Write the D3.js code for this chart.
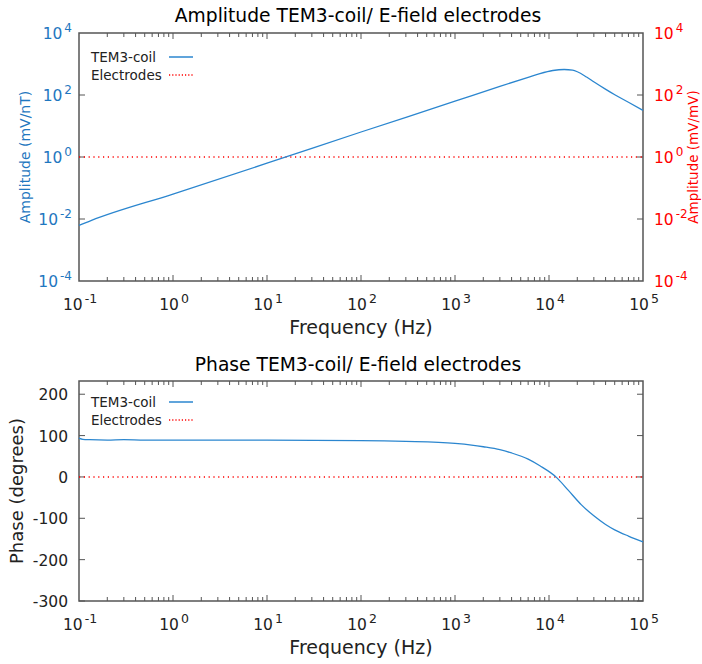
<!DOCTYPE html>
<html><head><meta charset="utf-8">
<script src="https://cdn.jsdelivr.net/npm/d3@7"></script>
<style>body{margin:0;background:#fff}svg{display:block}text{font-family:"DejaVu Sans",sans-serif}</style>
</head><body><svg id="c" width="702" height="664"></svg>
<script>
// ---- data ----
const ampFreq = [0.1, 0.134, 1, 10, 100, 1000, 3000, 6000, 8000, 11000, 14500, 17800, 20000, 25100, 30200, 39800, 50100, 70800, 100000];
const ampCoil = [0.0062, 0.0089, 0.064, 0.63, 6.4, 63, 190, 372, 490, 617, 665, 631, 562, 380, 263, 155, 102, 57.5, 32];
const electrodeFreq = [0.1, 100000];
const ampElectrodes = [1, 1];
const phaseFreq = [0.1, 0.11, 0.13, 0.2, 0.3, 0.5, 1, 10, 100, 300, 1000, 1500, 2000, 3000, 4000, 6000, 8000, 12000, 16000, 22000, 30000, 40000, 50000, 70000, 100000];
const phaseCoil = [94, 91, 90, 89, 90, 89, 89, 89, 88, 86, 81, 77, 73, 66, 58, 43, 27, -1, -32, -67, -94, -115, -128, -143, -157];
const phaseElectrodes = [0, 0];
const xTickExps = [-1, 0, 1, 2, 3, 4, 5];
const ampTickExps = [-4, -2, 0, 2, 4];
const phaseTicks = [-300, -200, -100, 0, 100, 200];
const seriesNames = ["TEM3-coil", "Electrodes"];
const titles = ["Amplitude TEM3-coil/ E-field electrodes", "Phase TEM3-coil/ E-field electrodes"];

const BLUE = "#1f77c0", CURVE = "#2b86cf", RED = "#ff0000", AX = "#555", TXT = "#222";
const svg = d3.select("#c");
const L = 79, R = 643;
const x = d3.scaleLog().domain([0.1, 1e5]).range([L, R]);

function powLabel(sel, e, sup, dy) {
  sel.append("tspan").text("10");
  sel.append("tspan").attr("font-size", sup).attr("dy", dy).attr("dx", 2).text(e);
}

function frame(top, bottom) {
  svg.append("rect").attr("x", L).attr("y", top).attr("width", R - L).attr("height", bottom - top)
    .attr("fill", "none").attr("stroke", AX).attr("stroke-width", 1.5);
  const g = svg.append("g").attr("stroke", AX).attr("stroke-width", 1);
  for (let e = -1; e < 5; e++) {
    for (let m = 1; m <= 9; m++) {
      if (m == 1 && e == -1) continue;
      const px = x(m * Math.pow(10, e)), len = m == 1 ? 6 : 4;
      g.append("line").attr("x1", px).attr("x2", px).attr("y1", bottom).attr("y2", bottom - len);
      g.append("line").attr("x1", px).attr("x2", px).attr("y1", top).attr("y2", top + len);
    }
  }
  svg.selectAll(null).data(xTickExps).enter().append("text")
    .attr("x", d => x(Math.pow(10, d)) + 1).attr("y", bottom + 29)
    .attr("text-anchor", "middle").attr("font-size", 15.5).attr("fill", TXT)
    .each(function (d) { powLabel(d3.select(this), d, 12.5, -7); });
  svg.append("text").attr("x", 361).attr("y", bottom + 53).attr("text-anchor", "middle")
    .attr("font-size", 19).attr("fill", TXT).text("Frequency (Hz)");
}

function legend(y0) {
  svg.append("text").attr("x", 91).attr("y", y0).attr("font-size", 13.5).attr("fill", TXT).text(seriesNames[0]);
  svg.append("text").attr("x", 91).attr("y", y0 + 18).attr("font-size", 13.5).attr("fill", TXT).text(seriesNames[1]);
  svg.append("line").attr("x1", 169).attr("x2", 193).attr("y1", y0 - 5).attr("y2", y0 - 5)
    .attr("stroke", CURVE).attr("stroke-width", 1.5);
  svg.append("line").attr("x1", 169).attr("x2", 193).attr("y1", y0 + 13).attr("y2", y0 + 13)
    .attr("stroke", RED).attr("stroke-width", 1.5).attr("stroke-dasharray", "1.2,2");
}

// ---------- Amplitude panel ----------
const T1 = 33, B1 = 281;
const y1 = d3.scaleLog().domain([1e-4, 1e4]).range([B1, T1]);
svg.append("text").attr("x", 358).attr("y", 22).attr("text-anchor", "middle").attr("font-size", 18.7)
  .attr("fill", "#000").text(titles[0]);
frame(T1, B1);
ampTickExps.forEach(e => {
  const py = y1(Math.pow(10, e));
  if (e > -4 && e < 4) {
    svg.append("line").attr("x1", L).attr("x2", L + 6).attr("y1", py).attr("y2", py).attr("stroke", AX);
    svg.append("line").attr("x1", R).attr("x2", R - 6).attr("y1", py).attr("y2", py).attr("stroke", AX);
  }
  svg.append("text").attr("x", 72).attr("y", py + 6).attr("text-anchor", "end").attr("font-size", 15.5)
    .attr("fill", BLUE).each(function () { powLabel(d3.select(this), e, 12, -7); });
  svg.append("text").attr("x", 654).attr("y", py + 6).attr("text-anchor", "start").attr("font-size", 15.5)
    .attr("fill", RED).each(function () { powLabel(d3.select(this), e, 12, -7); });
});
svg.append("text").attr("transform", "translate(30,157) rotate(-90)").attr("text-anchor", "middle")
  .attr("font-size", 14).attr("fill", BLUE).text("Amplitude (mV/nT)");
svg.append("text").attr("transform", "translate(698,157) rotate(-90)").attr("text-anchor", "middle")
  .attr("font-size", 13.5).attr("fill", RED).text("Amplitude (mV/mV)");

const ampLine = d3.line().x(d => x(d[0])).y(d => y1(d[1])).curve(d3.curveMonotoneX);
svg.append("path").datum(electrodeFreq.map((f, i) => [f, ampElectrodes[i]])).attr("d", ampLine)
  .attr("fill", "none").attr("stroke", RED).attr("stroke-width", 1.5).attr("stroke-dasharray", "1.2,3.6");
svg.append("path").datum(ampFreq.map((f, i) => [f, ampCoil[i]])).attr("d", ampLine)
  .attr("fill", "none").attr("stroke", CURVE).attr("stroke-width", 1.3);
legend(62);

// ---------- Phase panel ----------
const T2 = 381, B2 = 601;
const y2 = d3.scaleLinear().domain([-300, 232]).range([B2, T2]);
svg.append("text").attr("x", 358).attr("y", 371).attr("text-anchor", "middle").attr("font-size", 18.7)
  .attr("fill", "#000").text(titles[1]);
frame(T2, B2);
phaseTicks.forEach(v => {
  const py = y2(v);
  svg.append("line").attr("x1", L).attr("x2", L + 6).attr("y1", py).attr("y2", py).attr("stroke", AX);
  svg.append("line").attr("x1", R).attr("x2", R - 6).attr("y1", py).attr("y2", py).attr("stroke", AX);
  svg.append("text").attr("x", 68).attr("y", py + 6).attr("text-anchor", "end").attr("font-size", 15.5)
    .attr("fill", TXT).text(v);
});
svg.append("text").attr("transform", "translate(23,491) rotate(-90)").attr("text-anchor", "middle")
  .attr("font-size", 18).attr("fill", TXT).text("Phase (degrees)");
const phLine = d3.line().x(d => x(d[0])).y(d => y2(d[1])).curve(d3.curveMonotoneX);
svg.append("path").datum(electrodeFreq.map((f, i) => [f, phaseElectrodes[i]])).attr("d", phLine)
  .attr("fill", "none").attr("stroke", RED).attr("stroke-width", 1.5).attr("stroke-dasharray", "1.2,3.6");
svg.append("path").datum(phaseFreq.map((f, i) => [f, phaseCoil[i]])).attr("d", phLine)
  .attr("fill", "none").attr("stroke", CURVE).attr("stroke-width", 1.3);
legend(407);
</script></body></html>
